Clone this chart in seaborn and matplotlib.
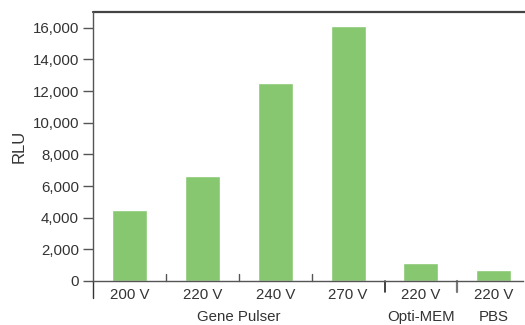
import matplotlib
matplotlib.use("Agg")
import matplotlib.pyplot as plt
import seaborn as sns
import pandas as pd

# --- data ---
conditions = ["GP 200 V", "GP 220 V", "GP 240 V", "GP 270 V", "Opti 220 V", "PBS 220 V"]
voltage_labels = ["200 V", "220 V", "240 V", "270 V", "220 V", "220 V"]
rlu_values = [4500, 6650, 12500, 16100, 1150, 700]
group_names = ["Gene Pulser", "Opti-MEM", "PBS"]
group_centers = [1.5, 4.0, 5.0]
yticks = list(range(0, 16001, 2000))

BAR_COLOR = "#87C76F"
TEXT_COLOR = "#333333"

sns.set_theme(style="white")
plt.rcParams["font.family"] = ["Liberation Sans", "DejaVu Sans"]

df = pd.DataFrame({"condition": conditions, "RLU": rlu_values})

fig = plt.figure(figsize=(5.25, 3.25), dpi=100)
ax = fig.add_axes([93 / 525, 1 - 281 / 325, 430 / 525, 269 / 325])

sns.barplot(data=df, x="condition", y="RLU", order=conditions, color=BAR_COLOR,
            width=0.48, saturation=1, ax=ax)

ax.set_xlim(-0.5, 5.4)
ax.set_ylim(0, 17000)
ax.set_yticks(yticks)
ax.set_yticklabels([f"{v:,}" for v in yticks], fontsize=10.8, color=TEXT_COLOR)
ax.set_xticks(range(len(conditions)))
ax.set_xticklabels(voltage_labels, fontsize=10.8, color=TEXT_COLOR)
ax.tick_params(axis="x", length=0, pad=5)
ax.tick_params(axis="y", length=7, width=1, color="#555555", pad=3, left=True)
ax.set_xlabel("")
ax.set_ylabel("RLU", fontsize=12, color=TEXT_COLOR, labelpad=4)

# spines: left and bottom plus a top rule, no right
ax.spines["right"].set_visible(False)
for side in ("left", "bottom", "top"):
    ax.spines[side].set_color("#555555")
    ax.spines[side].set_linewidth(1.0)
ax.spines["top"].set_visible(False)

trans = ax.get_xaxis_transform()
# top rule runs to the right edge of the figure
ax.plot([-0.5, 5.47], [1, 1], transform=trans, color="#444444", lw=1.6, clip_on=False)
# left spine runs a bit below the baseline
ax.plot([-0.5, -0.5], [0, -0.064], transform=trans, color="#333333", lw=1.0, clip_on=False)
# short ticks between Gene Pulser bars
for x in (0.5, 1.5, 2.5):
    ax.plot([x, x], [0, 0.027], transform=trans, color="#555555", lw=1.0, clip_on=False)
# group separators below the axis
ax.plot([3.5, 3.5], [0, -0.042], transform=trans, color="#222222", lw=1.2, clip_on=False)
ax.plot([4.5, 4.5], [0, -0.042], transform=trans, color="#777777", lw=1.6, clip_on=False)

for name, xc in zip(group_names, group_centers):
    ax.text(xc, -0.135, name, transform=trans, ha="center", va="center",
            fontsize=10.8, color=TEXT_COLOR)

fig.savefig("out.png", dpi=100)
